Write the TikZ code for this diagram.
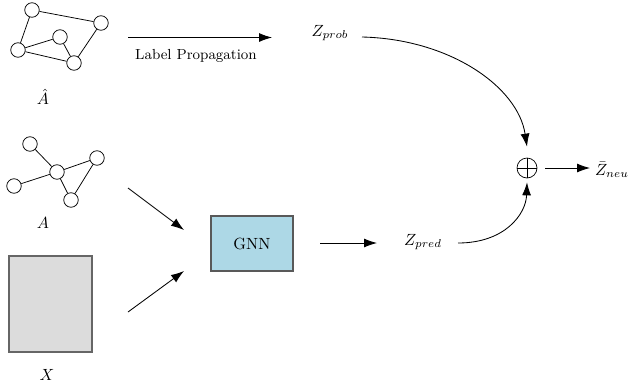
\documentclass[tikz,border=0pt]{standalone}
\usetikzlibrary{arrows.meta}
\definecolor{gnnblue}{RGB}{173,216,230}
\definecolor{xgray}{RGB}{220,220,220}
\tikzset{
  vtx/.style={circle,draw,fill=white,line width=0.75pt,minimum size=14.5pt,inner sep=0pt},
  gedge/.style={line width=0.75pt},
  arr/.style={line width=0.85pt,-{Latex[length=13pt,width=9pt]}},
  lbl/.style={scale=1.62,inner sep=0pt},
  smalllbl/.style={scale=1.62,inner sep=0pt,font=\small},
  gnnbox/.style={draw=black!65,fill=gnnblue,line width=1.2pt,scale=1.62,minimum width=50.6pt,minimum height=34pt},
  xbox/.style={draw=black!60,fill=xgray,line width=1.2pt,minimum width=83pt,minimum height=96pt},
  plusnode/.style={circle,draw,line width=0.7pt,minimum size=20pt,inner sep=0pt,
    path picture={\draw[line width=0.7pt] (path picture bounding box.north) -- (path picture bounding box.south)
      (path picture bounding box.west) -- (path picture bounding box.east);}}
}
\begin{document}
\begin{tikzpicture}[x=1pt,y=-1pt]
\useasboundingbox (0,0) rectangle (631,389);
% top graph (A hat)
\node[vtx] (t1) at (32,10) {};
\node[vtx] (t2) at (101,23) {};
\node[vtx] (t3) at (60,37) {};
\node[vtx] (t4) at (18,50) {};
\node[vtx] (t5) at (74,63) {};
\draw[gedge] (t1)--(t2) (t1)--(t4) (t2)--(t5) (t4)--(t3) (t3)--(t5) (t4)--(t5);
\node[lbl] (ahat) at (43,97) {$\hat{A}$};
% middle graph (A)
\node[vtx] (m1) at (30,144) {};
\node[vtx] (m2) at (57,172) {};
\node[vtx] (m3) at (97,158) {};
\node[vtx] (m4) at (14,186) {};
\node[vtx] (m5) at (71,200) {};
\draw[gedge] (m1)--(m2) (m2)--(m3) (m2)--(m4) (m2)--(m5) (m3)--(m5);
\node[lbl] (alab) at (43,223) {$A$};
% feature matrix
\node[xbox] (xrect) at (50.5,304) {};
\node[lbl] (xlab) at (47,375) {$X$};
% GNN
\node[gnnbox] (gnn) at (252,243.5) {GNN};
% labels
\node[lbl] (zprob) at (330,33) {$Z_{prob}$};
\node[smalllbl] (lp) at (196,56) {Label Propagation};
\node[lbl] (zpred) at (423,242) {$Z_{pred}$};
\node[plusnode] (plus) at (527,168) {};
\node[lbl] (zneu) at (612,170) {$\bar{Z}_{neu}$};
% connector endpoints
\coordinate (lps) at (128,37.5);
\coordinate (lpe) at (272,37.5);
\coordinate (as) at (128,188);
\coordinate (ae) at (184,230);
\coordinate (xs) at (128,312);
\coordinate (xe) at (184,271);
\coordinate (gs) at (320,243);
\coordinate (ge) at (377,243);
\coordinate (ps) at (362,37);
\coordinate (pt) at ([yshift=11pt]plus.north);
\coordinate (qs) at (458,243);
\coordinate (qt) at ([yshift=-4pt]plus.south);
\coordinate (ns) at ([xshift=8pt]plus.east);
\coordinate (ne) at (590,168);
% arrows
\draw[arr] (lps) -- (lpe);
\draw[arr] (as) -- (ae);
\draw[arr] (xs) -- (xe);
\draw[arr] (gs) -- (ge);
\draw[arr] (ps) .. controls (450,39) and (518,87) .. (pt);
\draw[arr] (qs) .. controls (505,243) and (526,214) .. (qt);
\draw[arr] (ns) -- (ne);
\end{tikzpicture}
\end{document}
